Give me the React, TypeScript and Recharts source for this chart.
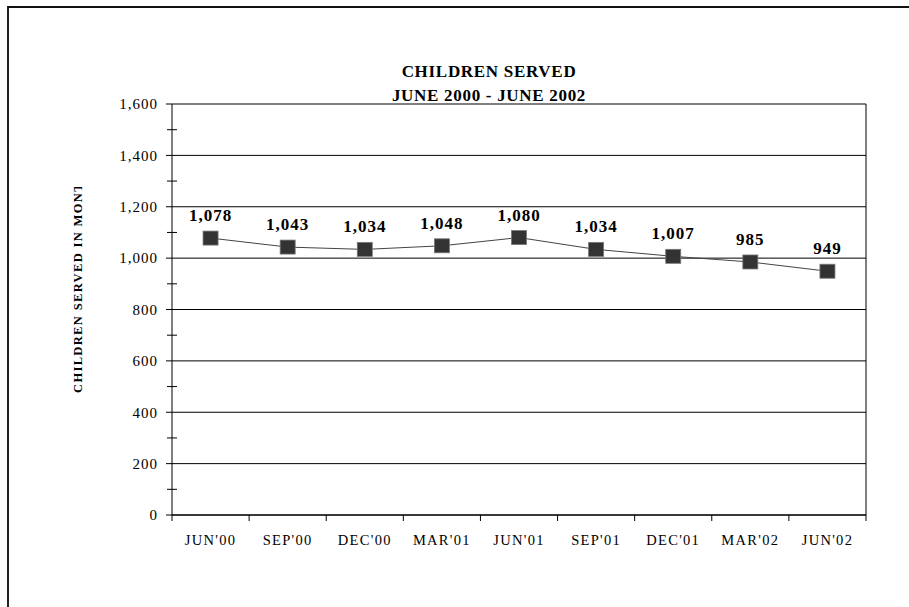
import { LineChart, Line, XAxis, YAxis, ReferenceLine, LabelList } from "recharts";

const categories = ["JUN'00", "SEP'00", "DEC'00", "MAR'01", "JUN'01", "SEP'01", "DEC'01", "MAR'02", "JUN'02"];
const served = [1078, 1043, 1034, 1048, 1080, 1034, 1007, 985, 949];
const majorTicks = [0, 200, 400, 600, 800, 1000, 1200, 1400, 1600];
const minorTicks = [100, 300, 500, 700, 900, 1100, 1300, 1500];

const data = categories.map((month, i) => ({ month, served: served[i] }));
const allTicks = [...majorTicks, ...minorTicks].sort((a, b) => a - b);

const W = 909;
const H = 607;
const PLOT_LEFT = 172;
const PLOT_RIGHT = 866;
const PLOT_TOP = 104;
const PLOT_BOTTOM = 515;
const BAND = (PLOT_RIGHT - PLOT_LEFT) / categories.length;
const SERIF = '"Liberation Serif", "Times New Roman", serif';

const fmt = (v: number) => v.toLocaleString("en-US");

function YTick({ y, payload }: any) {
  const v = payload.value;
  const major = majorTicks.includes(v);
  return (
    <g>
      {major ? (
        <line x1={PLOT_LEFT - 6} x2={PLOT_LEFT} y1={y} y2={y} stroke="#000" />
      ) : (
        <line x1={PLOT_LEFT - 5} x2={PLOT_LEFT + 5} y1={y} y2={y} stroke="#000" />
      )}
      {major && (
        <text
          x={PLOT_LEFT - 14}
          y={y}
          dy="0.35em"
          textAnchor="end"
          fontFamily={SERIF}
          fontSize={15}
          letterSpacing={1}
          fill="#000"
        >
          {fmt(v)}
        </text>
      )}
    </g>
  );
}

function XTick({ x, payload }: any) {
  const last = payload.value === categories[categories.length - 1];
  return (
    <g>
      <line x1={x - BAND / 2} x2={x - BAND / 2} y1={PLOT_BOTTOM} y2={PLOT_BOTTOM + 6} stroke="#000" />
      {/* right edge of the plot box */}
      {last && <line x1={x + BAND / 2} x2={x + BAND / 2} y1={PLOT_TOP} y2={PLOT_BOTTOM + 6} stroke="#000" />}
      <text
        x={x}
        y={PLOT_BOTTOM + 30}
        textAnchor="middle"
        fontFamily={SERIF}
        fontSize={14.5}
        letterSpacing={1.3}
        fill="#000"
      >
        {payload.value}
      </text>
    </g>
  );
}

function SquareDot({ cx, cy }: any) {
  return <rect x={cx - 7.5} y={cy - 7} width={15} height={14} fill="#333" stroke="#777" strokeWidth={0.8} />;
}

function ValueLabel({ x, y, value }: any) {
  return (
    <text
      x={x}
      y={y - 17}
      textAnchor="middle"
      fontFamily={SERIF}
      fontWeight="bold"
      fontSize={17}
      letterSpacing={1}
      fill="#000"
    >
      {fmt(value)}
    </text>
  );
}

function YLabel() {
  return (
    <g>
      <defs>
        <clipPath id="ylabclip">
          <rect x={60} y={187} width={40} height={230} />
        </clipPath>
      </defs>
      <g clipPath="url(#ylabclip)">
        <text
          transform="translate(82, 393) rotate(-90)"
          fontFamily={SERIF}
          fontWeight="bold"
          fontSize={12.5}
          letterSpacing={1.35}
          fill="#000"
        >
          CHILDREN SERVED IN MONTH
        </text>
      </g>
    </g>
  );
}

export default function App() {
  return (
    <div style={{ position: "absolute", left: 0, top: 0, width: W, height: H, background: "#fff", overflow: "hidden" }}>
      <div
        style={{
          position: "absolute",
          left: 7,
          top: 6,
          width: 920,
          height: 620,
          borderTop: "2px solid #111",
          borderLeft: "2px solid #222",
        }}
      />
      <div
        style={{
          position: "absolute",
          left: 289,
          width: 400,
          top: 60,
          textAlign: "center",
          fontFamily: SERIF,
          fontWeight: "bold",
          fontSize: 17,
          letterSpacing: 0.7,
          lineHeight: "24px",
          color: "#000",
        }}
      >
        <div>CHILDREN SERVED</div>
        <div>JUNE 2000 - JUNE 2002</div>
      </div>
      <div style={{ position: "absolute", left: 0, top: 0 }}>
        <LineChart width={W} height={H} data={data} margin={{ top: PLOT_TOP, right: W - PLOT_RIGHT, bottom: 0, left: 0 }}>
          {majorTicks.map((t) => (
            <ReferenceLine key={t} y={t} stroke="#000" strokeWidth={1} />
          ))}
          <XAxis
            dataKey="month"
            height={H - PLOT_BOTTOM}
            padding={{ left: BAND / 2, right: BAND / 2 }}
            tick={<XTick />}
            tickLine={false}
            axisLine={{ stroke: "#222", strokeWidth: 1.5 }}
            interval={0}
          />
          <YAxis
            width={PLOT_LEFT}
            domain={[0, 1600]}
            ticks={allTicks}
            interval={0}
            tick={<YTick />}
            tickLine={false}
            axisLine={{ stroke: "#000" }}
            label={{ content: <YLabel /> }}
          />
          <Line
            dataKey="served"
            stroke="#444"
            strokeWidth={1}
            dot={<SquareDot />}
            activeDot={false}
            isAnimationActive={false}
          >
            <LabelList dataKey="served" content={<ValueLabel />} />
          </Line>
        </LineChart>
      </div>
    </div>
  );
}
